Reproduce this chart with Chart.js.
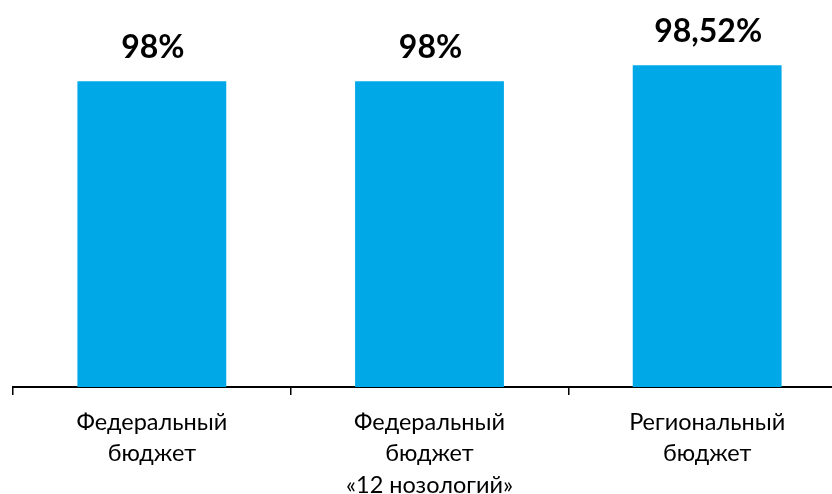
<!DOCTYPE html>
<html><head><meta charset="utf-8">
<script src="https://cdn.jsdelivr.net/npm/chart.js@4"></script>
<style>html,body{margin:0;padding:0;overflow:hidden;background:#fff;width:832px;height:494px}canvas{display:block}</style>
</head><body>
<canvas id="c" width="846" height="494"></canvas>
<script>
const categories = [["Федеральный","бюджет"],["Федеральный","бюджет","«12 нозологий»"],["Региональный","бюджет"]];
const values = [98, 98, 98.52];
const valueLabels = ["98%", "98%", "98,52%"];

const labelPlugin = {
  id: 'vals',
  afterDatasetsDraw(chart) {
    const ctx = chart.ctx;
    const meta = chart.getDatasetMeta(0);
    ctx.save();
    ctx.font = 'bold 32px Lato';
    ctx.fillStyle = '#000';
    ctx.textAlign = 'center';
    ctx.textBaseline = 'alphabetic';
    meta.data.forEach((bar, i) => {
      ctx.fillText(valueLabels[i], bar.x + 1, bar.y - 23);
    });
    ctx.restore();
  }
};

new Chart(document.getElementById('c'), {
  type: 'bar',
  data: { labels: categories, datasets: [{ data: values, backgroundColor: '#00A8E8', barPercentage: 0.536, categoryPercentage: 1 }] },
  options: {
    responsive: false, animation: false, devicePixelRatio: 1,
    layout: { padding: { top: 20, left: 13, right: 0, bottom: 0 } },
    plugins: { legend: { display: false }, tooltip: { enabled: false } },
    scales: {
      y: { display: false, min: 88, max: 100 },
      x: {
        afterFit(s) { s.height = 107; },
        border: { display: true, color: '#000', width: 2 },
        grid: { offset: true, drawOnChartArea: false, drawTicks: true, tickLength: 8, color: '#000', lineWidth: 1.5 },
        ticks: { color: '#000', font: { family: 'Lato', size: 23.5, lineHeight: 1.33 }, padding: 12, maxRotation: 0, autoSkip: false }
      }
    }
  },
  plugins: [labelPlugin]
});
</script>
</body></html>
